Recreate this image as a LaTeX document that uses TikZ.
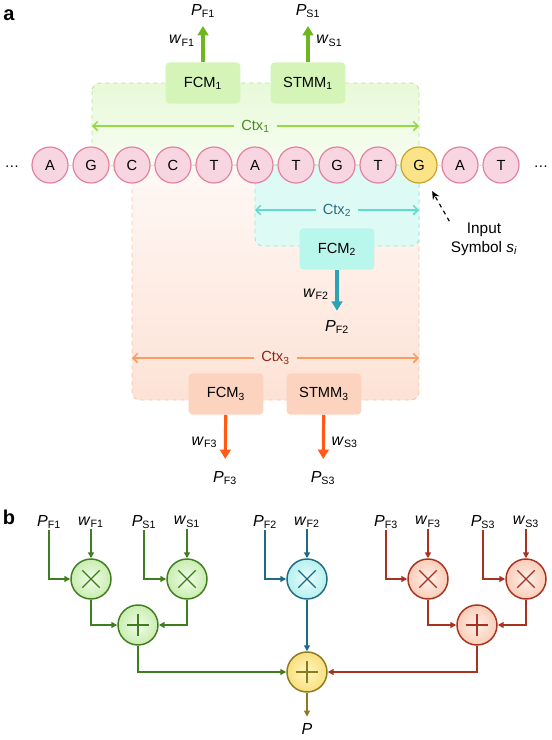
\documentclass[tikz,border=0pt]{standalone}
\usepackage{fontspec}
\setmainfont{Liberation Sans}
\usetikzlibrary{arrows.meta,calc,positioning}

% panel a colours
\definecolor{seqfill}{HTML}{F8D6E1}
\definecolor{seqline}{HTML}{E2829E}
\definecolor{symfill}{HTML}{FBE487}
\definecolor{symline}{HTML}{C9A227}
\definecolor{grnA}{HTML}{6DB622}
\definecolor{grnCtx}{HTML}{93DA45}
\definecolor{grnTxt}{HTML}{4C8A1E}
\definecolor{grnBox}{HTML}{D4F5B7}
\definecolor{grnEdge}{HTML}{B9E794}
\definecolor{cyaA}{HTML}{2BA3B4}
\definecolor{cyaCtx}{HTML}{5FDBD0}
\definecolor{cyaTxt}{HTML}{2C6E80}
\definecolor{cyaBox}{HTML}{B9F6EB}
\definecolor{cyaEdge}{HTML}{93E7DC}
\definecolor{cyaBg}{HTML}{DEFAF5}
\definecolor{orgA}{HTML}{FF5B16}
\definecolor{orgCtx}{HTML}{F89C60}
\definecolor{orgTxt}{HTML}{8E2418}
\definecolor{orgBox}{HTML}{FCD3BF}
\definecolor{orgEdge}{HTML}{F8C4A6}
% panel b colours
\definecolor{lineG}{HTML}{3F7D1F}
\definecolor{lineC}{HTML}{1F6B86}
\definecolor{lineR}{HTML}{A8321F}
\definecolor{lineY}{HTML}{8C7A1E}
\definecolor{inG}{HTML}{F1FCE9}
\definecolor{outG}{HTML}{9FDE76}
\definecolor{inC}{HTML}{EBFDFC}
\definecolor{outC}{HTML}{80E4E0}
\definecolor{inR}{HTML}{FFF1EA}
\definecolor{outR}{HTML}{F5A786}
\definecolor{inY}{HTML}{FFF6C2}
\definecolor{outY}{HTML}{F2C93A}

\pgfdeclareradialshading{glowG}{\pgfpointorigin}{color(0bp)=(inG); color(50bp)=(outG)}
\pgfdeclareradialshading{glowC}{\pgfpointorigin}{color(0bp)=(inC); color(50bp)=(outC)}
\pgfdeclareradialshading{glowR}{\pgfpointorigin}{color(0bp)=(inR); color(50bp)=(outR)}
\pgfdeclareradialshading{glowY}{\pgfpointorigin}{color(0bp)=(inY); color(50bp)=(outY)}

\newcommand{\probP}[1]{\textit{P}\textsubscript{#1}}
\newcommand{\wtw}[1]{\textit{w}\textsubscript{#1}}

\tikzset{%
	nuc/.style      = {circle, draw=seqline, fill=seqfill, line width=0.9pt, minimum size=27pt, inner sep=0pt}, % Base
	insym/.style    = {nuc, draw=symline, fill=symfill}, % Input symbol
	model/.style    = {rectangle, rounded corners=3pt, minimum width=56pt, minimum height=31pt}, % Model block
	ctx/.style      = {dashed, rounded corners=6pt, line width=0.6pt}, % Context area
	ctxspan/.style  = {-{Straight Barb[length=3.5pt,width=7pt]}, line width=1.1pt}, % Context span
	emit/.style     = {-{Triangle[length=7pt,width=8pt]}, line width=2.4pt}, % Model output
	lbl/.style      = {inner sep=1pt, font=\fontsize{12}{14}\selectfont}, % Label
	wire/.style     = {-{Triangle[length=4.5pt,width=4.5pt]}, line width=1.2pt, draw=line#1},
	op/.style       = {circle, draw=line#1, line width=1.1pt, minimum size=30pt, inner sep=0pt, shade, shading=glow#1},
	mulnode/.style  = {op=#1, path picture={\draw[line#1, line width=1pt]
		($(path picture bounding box.center)+(-6.5pt,-6.5pt)$) -- ++(13pt,13pt)
		($(path picture bounding box.center)+(-6.5pt,6.5pt)$) -- ++(13pt,-13pt);}}, % Multiplier
	addnode/.style  = {op=#1, path picture={\draw[line#1, line width=1pt]
		($(path picture bounding box.center)+(-8.5pt,0)$) -- ++(17pt,0)
		($(path picture bounding box.center)+(0,-8.5pt)$) -- ++(0,17pt);}}, % Adder
}

\begin{document}
\begin{tikzpicture}[x=0.75pt, y=-0.75pt, font=\fontsize{11}{13}\selectfont]
	\useasboundingbox (0,0) rectangle (551,740);

	% panel a
	\node[font=\fontsize{15}{17}\selectfont\bfseries] (tagA) at (9,15) {a};
	\draw[ctx, draw=grnEdge, top color=grnBox!55, bottom color=grnBox!15] (92,83) rectangle (419,170);
	\draw[ctx, draw=orgEdge, top color=orgBox!15, bottom color=orgBox!65] (132,165) rectangle (419,400);
	\draw[ctx, draw=cyaEdge, fill=cyaBg] (255,165) rectangle (419,246);

	\foreach \b/\st [count=\i] in {A/nuc,G/nuc,C/nuc,C/nuc,T/nuc,A/nuc,T/nuc,G/nuc,T/nuc,G/insym,A/nuc,T/nuc}
		\node[\st] (s\i) at ({50+41*(\i-1)},165) {\b};
	\foreach \i [evaluate=\i as \j using int(\i+1)] in {1,...,11}
		\draw[seqline!35, line width=0.5pt] (s\i) -- (s\j);
	\node (dotL) at (12,167) {\ldots};
	\node (dotR) at (541,167) {\ldots};

	% context spans
	\coordinate (c1l) at (92,126);
	\coordinate (c1r) at (419,126);
	\node[text=grnTxt, inner sep=5pt] (ctx1) at ($(c1l)!0.5!(c1r)$) {Ctx\textsubscript{1}};
	\draw[ctxspan, grnCtx] (ctx1) -- (c1l);
	\draw[ctxspan, grnCtx] (ctx1) -- (c1r);
	\coordinate (c2l) at (255,210);
	\coordinate (c2r) at (419,210);
	\node[text=cyaTxt, inner sep=5pt] (ctx2) at ($(c2l)!0.5!(c2r)$) {Ctx\textsubscript{2}};
	\draw[ctxspan, cyaCtx] (ctx2) -- (c2l);
	\draw[ctxspan, cyaCtx] (ctx2) -- (c2r);
	\coordinate (c3l) at (132,358);
	\coordinate (c3r) at (419,358);
	\node[text=orgTxt, inner sep=5pt] (ctx3) at ($(c3l)!0.5!(c3r)$) {Ctx\textsubscript{3}};
	\draw[ctxspan, orgCtx] (ctx3) -- (c3l);
	\draw[ctxspan, orgCtx] (ctx3) -- (c3r);

	% models
	\node[model, fill=grnBox] (fcm1) at (203,83) {FCM\textsubscript{1}};
	\node[model, fill=grnBox] (stmm1) at (308,83) {STMM\textsubscript{1}};
	\node[model, fill=cyaBox] (fcm2) at (337,249) {FCM\textsubscript{2}};
	\node[model, fill=orgBox] (fcm3) at (226,394) {FCM\textsubscript{3}};
	\node[model, fill=orgBox] (stmm3) at (324,394) {STMM\textsubscript{3}};

	\node[lbl] (pF1) at (203,11) {\probP{F1}};
	\node[lbl] (pS1) at (308,11) {\probP{S1}};
	\node[lbl] (pF2) at (337,327) {\probP{F2}};
	\node[lbl] (pF3) at (225,478) {\probP{F3}};
	\node[lbl] (pS3) at (323,478) {\probP{S3}};
	\draw[emit, grnA, shorten >=5pt] (fcm1) -- node[lbl, left=4pt, text=black] (wF1) {\wtw{F1}} (pF1);
	\draw[emit, grnA, shorten >=5pt] (stmm1) -- node[lbl, right=4pt, text=black] (wS1) {\wtw{S1}} (pS1);
	\draw[emit, cyaA, shorten >=6pt] (fcm2) -- node[lbl, left=4pt, text=black] (wF2) {\wtw{F2}} (pF2);
	\draw[emit, orgA, shorten >=8pt] (fcm3) -- node[lbl, left=4pt, text=black] (wF3) {\wtw{F3}} (pF3);
	\draw[emit, orgA, shorten >=8pt] (stmm3) -- node[lbl, right=4pt, text=black] (wS3) {\wtw{S3}} (pS3);

	\node[align=center, inner sep=1pt, font=\fontsize{11.5}{14}\selectfont] (insy) at (484,239) {Input\\Symbol \textit{s\textsubscript{i}}};
	\draw[dashed, line width=0.9pt, -{Stealth[length=6pt,width=5.5pt]}, shorten >=8pt] (insy.north west) -- (s10.-65);

	% panel b
	\node[font=\fontsize{15}{17}\selectfont\bfseries] (tagB) at (9,517) {b};
	\node[lbl] (bPF1) at (49,522) {\probP{F1}};
	\node[lbl] (bWF1) at (91,522) {\wtw{F1}};
	\node[lbl] (bPS1) at (144,522) {\probP{S1}};
	\node[lbl] (bWS1) at (187,522) {\wtw{S1}};
	\node[lbl] (bPF2) at (265,522) {\probP{F2}};
	\node[lbl] (bWF2) at (307,522) {\wtw{F2}};
	\node[lbl] (bPF3) at (386,522) {\probP{F3}};
	\node[lbl] (bWF3) at (428,522) {\wtw{F3}};
	\node[lbl] (bPS3) at (483,522) {\probP{S3}};
	\node[lbl] (bWS3) at (526,522) {\wtw{S3}};

	\node[mulnode=G] (xF1) at (91,579) {};
	\node[mulnode=G] (xS1) at (187,579) {};
	\node[mulnode=C] (xF2) at (307,579) {};
	\node[mulnode=R] (xF3) at (428,579) {};
	\node[mulnode=R] (xS3) at (526,579) {};
	\node[addnode=G] (sum1) at (138,625) {};
	\node[addnode=R] (sum3) at (477,625) {};
	\node[addnode=Y] (sumP) at (307,672) {};
	\node[lbl] (outP) at (307,729) {\textit{P}};

	\draw[wire=G] (bPF1.south) |- (xF1);
	\draw[wire=G] (bWF1) -- (xF1);
	\draw[wire=G] (bPS1.south) |- (xS1);
	\draw[wire=G] (bWS1) -- (xS1);
	\draw[wire=C] (bPF2.south) |- (xF2);
	\draw[wire=C] (bWF2) -- (xF2);
	\draw[wire=R] (bPF3.south) |- (xF3);
	\draw[wire=R] (bWF3) -- (xF3);
	\draw[wire=R] (bPS3.south) |- (xS3);
	\draw[wire=R] (bWS3) -- (xS3);
	\draw[wire=G] (xF1) |- (sum1);
	\draw[wire=G] (xS1) |- (sum1);
	\draw[wire=R] (xF3) |- (sum3);
	\draw[wire=R] (xS3) |- (sum3);
	\draw[wire=G] (sum1) |- (sumP);
	\draw[wire=R] (sum3) |- (sumP);
	\draw[wire=C] (xF2) -- (sumP);
	\draw[wire=Y, shorten >=4pt] (sumP) -- (outP);
\end{tikzpicture}
\end{document}
